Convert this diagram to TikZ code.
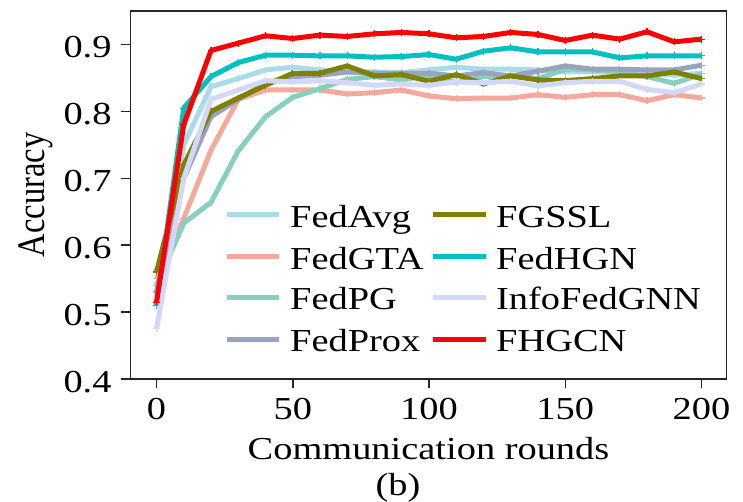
\documentclass[tikz,border=0pt]{standalone}
\usepackage{fontspec}
\setmainfont{Liberation Serif}[FakeStretch=1.2]
\newfontfamily\fontereta{Liberation Serif}
\usepackage{tikz}
\usetikzlibrary{positioning}
\definecolor{corFedAvg}{RGB}{168,220,232}
\definecolor{corFedGTA}{RGB}{243,169,155}
\definecolor{corFedPG}{RGB}{134,208,190}
\definecolor{corFedProx}{RGB}{153,163,189}
\definecolor{corFGSSL}{RGB}{128,128,0}
\definecolor{corFedHGN}{RGB}{0,192,192}
\definecolor{corInfo}{RGB}{212,216,248}
\definecolor{corFHGCN}{RGB}{255,0,0}
\tikzset{
  curva/.style={line width=5pt, line join=round, mark=+, mark size=3.4pt,
                mark options={line width=1.1pt}},
  moldura/.style={line width=1.8pt, black!85},
  tique/.style={line width=1.5pt, black!85},
  rotulo/.style={font=\fontsize{32}{36}\selectfont, inner sep=0pt},
  amostra/.style={line width=5pt},
}

\begin{document}
\begin{tikzpicture}[x=1pt, y=1pt]
  \useasboundingbox (0,0) rectangle (743,501);
  \begin{scope}[x=2.725pt, y=669pt, shift={(156.5pt,-145.6pt)}]
    % curves
    \draw[curva, corFedAvg] plot coordinates {(0,0.53) (10,0.75) (20,0.837) (30,0.849) (40,0.862) (50,0.866) (60,0.862) (70,0.859) (80,0.859) (90,0.858) (100,0.862) (110,0.866) (120,0.863) (130,0.863) (140,0.862) (150,0.859) (160,0.859) (170,0.859) (180,0.858) (190,0.854) (200,0.857)};
    \draw[curva, corFedGTA] plot coordinates {(0,0.55) (10,0.64) (20,0.742) (30,0.818) (40,0.832) (50,0.832) (60,0.832) (70,0.826) (80,0.828) (90,0.832) (100,0.823) (110,0.819) (120,0.820) (130,0.820) (140,0.825) (150,0.821) (160,0.825) (170,0.825) (180,0.816) (190,0.825) (200,0.820)};
    \draw[curva, corFedPG] plot coordinates {(0,0.54) (10,0.633) (20,0.664) (30,0.741) (40,0.792) (50,0.821) (60,0.834) (70,0.848) (80,0.852) (90,0.847) (100,0.854) (110,0.843) (120,0.852) (130,0.854) (140,0.849) (150,0.863) (160,0.862) (170,0.859) (180,0.852) (190,0.842) (200,0.856)};
    \draw[curva, corFedProx] plot coordinates {(0,0.53) (10,0.70) (20,0.792) (30,0.818) (40,0.842) (50,0.852) (60,0.854) (70,0.859) (80,0.857) (90,0.857) (100,0.857) (110,0.853) (120,0.858) (130,0.853) (140,0.860) (150,0.868) (160,0.863) (170,0.863) (180,0.862) (190,0.862) (200,0.869)};
    \draw[curva, corFGSSL] plot coordinates {(0,0.56) (10,0.72) (20,0.80) (30,0.82) (40,0.839) (50,0.857) (60,0.857) (70,0.868) (80,0.853) (90,0.855) (100,0.845) (110,0.855) (120,0.841) (130,0.853) (140,0.847) (150,0.846) (160,0.849) (170,0.853) (180,0.853) (190,0.859) (200,0.849)};
    \draw[curva, corFedHGN] plot coordinates {(0,0.51) (10,0.805) (20,0.852) (30,0.873) (40,0.884) (50,0.884) (60,0.883) (70,0.883) (80,0.881) (90,0.882) (100,0.885) (110,0.878) (120,0.890) (130,0.895) (140,0.889) (150,0.889) (160,0.889) (170,0.880) (180,0.883) (190,0.883) (200,0.883)};
    \draw[curva, corInfo] plot coordinates {(0,0.475) (10,0.70) (20,0.818) (30,0.832) (40,0.846) (50,0.844) (60,0.846) (70,0.843) (80,0.839) (90,0.841) (100,0.839) (110,0.844) (120,0.843) (130,0.845) (140,0.838) (150,0.843) (160,0.845) (170,0.845) (180,0.833) (190,0.828) (200,0.841)};
    \draw[curva, corFHGCN] plot coordinates {(0,0.515) (10,0.78) (20,0.891) (30,0.902) (40,0.913) (50,0.909) (60,0.914) (70,0.912) (80,0.916) (90,0.918) (100,0.916) (110,0.910) (120,0.912) (130,0.918) (140,0.915) (150,0.906) (160,0.914) (170,0.908) (180,0.919) (190,0.904) (200,0.908)};
    % frame and ticks
    \draw[moldura] (-9.54,0.4) rectangle (209.2,0.95);
    \foreach \v [count=\i] in {0.4,0.5,0.6,0.7,0.8,0.9} {
      \draw[tique] (-9.54,\v) -- ++(-10pt,0);
      \node[rotulo, anchor=base east] (ry\i) at ([shift={(-18.8pt,-13pt)}]-9.54,\v) {\v};
    }
    \foreach \v [count=\i] in {0,50,100,150,200} {
      \draw[tique] (\v,0.4) -- ++(0,-9pt);
      \node[rotulo, anchor=base] (rx\i) at ([yshift=-40.3pt]\v,0.4) {\v};
    }
  \end{scope}
  % axis titles
  \node[rotulo, anchor=base] (titx) at (428.5,41.7) {Communication rounds};
  \node[rotulo, anchor=base] (sub) at (398,6) {(b)};
  \node[inner sep=0pt, anchor=base, rotate=90, font=\fontereta\fontsize{32.5}{36}\selectfont] (tity) at (45,306) {\scalebox{1}[1.2]{Accuracy}};
  % legend
  \foreach \nome/\cor/\y [count=\i] in {FedAvg/corFedAvg/286, FedGTA/corFedGTA/244.3, FedPG/corFedPG/203.7, FedProx/corFedProx/161.7} {
    \coordinate (la\i) at (227,\y);
    \coordinate (lb\i) at (279,\y);
    \draw[amostra, \cor] (la\i) -- (lb\i);
    \node[rotulo, anchor=base west] (lt\i) at (290,\y-12.5) {\nome};
  }
  \foreach \nome/\cor/\y [count=\i] in {FGSSL/corFGSSL/286, FedHGN/corFedHGN/244.3, InfoFedGNN/corInfo/203.7, FHGCN/corFHGCN/161.7} {
    \coordinate (ma\i) at (433,\y);
    \coordinate (mb\i) at (486,\y);
    \draw[amostra, \cor] (ma\i) -- (mb\i);
    \node[rotulo, anchor=base west] (mt\i) at (496,\y-12.5) {\nome};
  }
\end{tikzpicture}
\end{document}
